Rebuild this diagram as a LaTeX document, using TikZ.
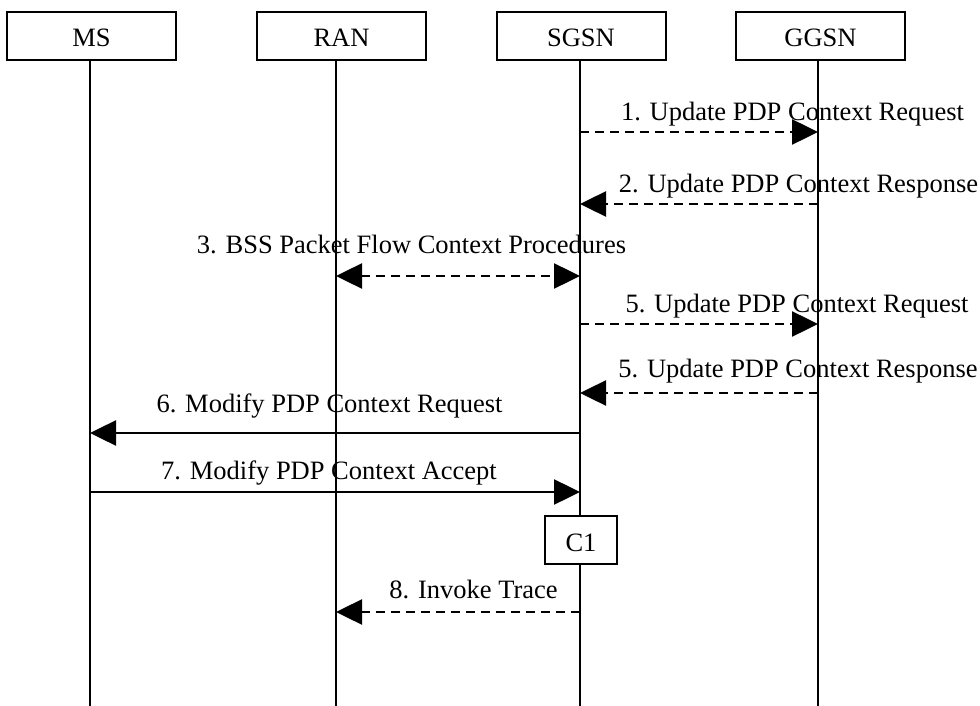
\documentclass[tikz,border=0pt]{standalone}
\usepackage{fontspec}
\setmainfont{Liberation Serif}
\usetikzlibrary{arrows.meta}
\begin{document}
\begin{tikzpicture}[x=1pt,y=-1pt,
  font=\fontsize{26.5}{30}\selectfont,
  hdr/.style={draw,line width=2pt,minimum width=169pt,minimum height=48pt,inner sep=0pt,text height=22pt,text depth=0pt},
  cbox/.style={draw,fill=white,line width=2pt,minimum width=72pt,minimum height=48pt,inner sep=0pt,text height=23pt,text depth=0pt},
  life/.style={line width=2pt},
  lbl/.style={anchor=base,inner sep=0pt},
  tip/.style={-{Triangle[length=26pt,width=25pt]}},
  dasharrow/.style={tip,line width=2.5pt,dash pattern=on 9pt off 6pt},
  solidarrow/.style={tip,line width=2.5pt},
  bidash/.style={{Triangle[length=26pt,width=25pt]}-{Triangle[length=26pt,width=25pt]},line width=2.5pt,dash pattern=on 9pt off 6pt}]
\useasboundingbox (0,0) rectangle (980,706);
% header boxes
\node[hdr] (ms) at (91.5,36) {MS};
\node[hdr] (ran) at (341.5,36) {RAN};
\node[hdr] (sgsn) at (581,36) {SGSN};
\node[hdr] (ggsn) at (820.5,36) {GGSN};
% lifelines
\coordinate (msT) at (90,60);   \coordinate (msB) at (90,706);
\coordinate (ranT) at (336,60); \coordinate (ranB) at (336,706);
\coordinate (sgT) at (580,60);  \coordinate (sgB) at (580,706);
\coordinate (ggT) at (818,60);  \coordinate (ggB) at (818,706);
\draw[life] (msT) -- (msB);
\draw[life] (ranT) -- (ranB);
\draw[life] (sgT) -- (sgB);
\draw[life] (ggT) -- (ggB);
% message end points
\coordinate (a1s) at (580,132); \coordinate (a1e) at (818,132);
\coordinate (a2s) at (818,204); \coordinate (a2e) at (580,204);
\coordinate (a3s) at (336,276); \coordinate (a3e) at (580,276);
\coordinate (a4s) at (580,324); \coordinate (a4e) at (818,324);
\coordinate (a5s) at (818,393); \coordinate (a5e) at (580,393);
\coordinate (a6s) at (580,433); \coordinate (a6e) at (90,433);
\coordinate (a7s) at (90,492);  \coordinate (a7e) at (580,492);
\coordinate (a8s) at (580,612); \coordinate (a8e) at (336,612);
% messages
\draw[dasharrow] (a1s) -- (a1e);
\node[lbl] (l1) at (792.5,121) {1. Update PDP Context Request};
\draw[dasharrow] (a2s) -- (a2e);
\node[lbl] (l2) at (798.5,192) {2. Update PDP Context Response};
\draw[bidash] (a3s) -- (a3e);
\node[lbl] (l3) at (411.5,253) {3. BSS Packet Flow Context Procedures};
\draw[dasharrow] (a4s) -- (a4e);
\node[lbl] (l4) at (797,312) {5. Update PDP Context Request};
\draw[dasharrow] (a5s) -- (a5e);
\node[lbl] (l5) at (798,377) {5. Update PDP Context Response};
\draw[solidarrow] (a6s) -- (a6e);
\node[lbl] (l6) at (329.5,412) {6. Modify PDP Context Request};
\draw[solidarrow] (a7s) -- (a7e);
\node[lbl] (l7) at (329,479) {7. Modify PDP Context Accept};
\node[cbox] (c1) at (581,540) {C1};
\draw[dasharrow] (a8s) -- (a8e);
\node[lbl] (l8) at (473.5,598) {8. Invoke Trace};
\end{tikzpicture}
\end{document}
